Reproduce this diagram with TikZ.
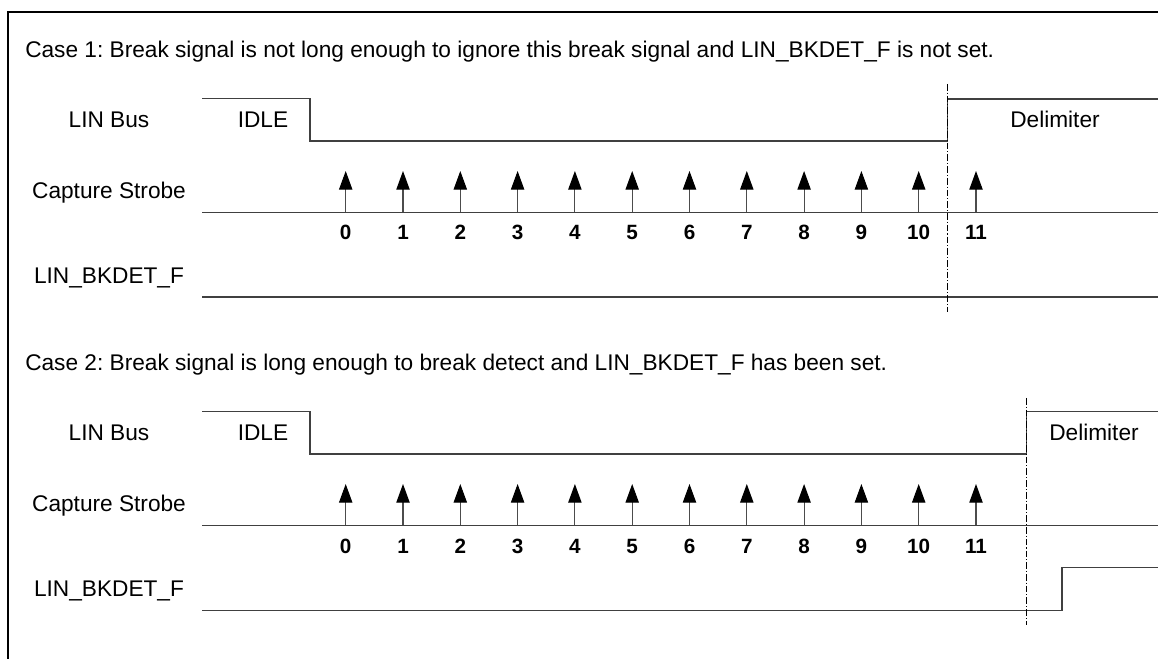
\documentclass[tikz,border=0pt]{standalone}
\usepackage{fontspec}
\setmainfont{Liberation Sans}
\usetikzlibrary{arrows.meta}
\frenchspacing

\begin{document}
\begin{tikzpicture}[
  x=0.75pt, y=-0.75pt,
  font=\fontsize{17}{20}\selectfont,
  every node/.style={inner sep=0pt},
  title/.style={anchor=base west},
  lbl/.style={anchor=base},
  tick/.style={anchor=base, font=\fontsize{15.5}{18}\selectfont\bfseries},
  frame/.style={draw=black, line width=1.5pt},
  sig/.style={draw=black!75, line width=0.8pt},
  strobe/.style={draw=black!70, line width=0.8pt, -{Triangle[length=14pt,width=10pt,color=black]}},
  marker/.style={draw=black, line width=0.6pt, dash pattern=on 5pt off 1.5pt on 0.8pt off 1.5pt}
]
\useasboundingbox (0,0) rectangle (1158,659);
\draw[frame] (1158,12.3) -- (7.5,12.3) -- (7.5,659);

% case 1
\node[title] (case1) at (25,57.3) {Case 1: Break signal is not long enough to ignore this break signal and LIN\_BKDET\_F is not set.};
\node[lbl] (bus1) at (109,127.7) {LIN Bus};
\node[lbl] (idle1) at (263,127.7) {IDLE};
\node[lbl] (delim1) at (1055,127.5) {Delimiter};
\node[lbl] (cap1) at (109,198.3) {Capture Strobe};
\node[lbl] (flag1) at (109,283.3) {LIN\_BKDET\_F};

\draw[sig] (202,98.7) -- (310,98.7) -- (310,141) -- (947.7,141) -- (947.7,99) -- (1158,99);
\draw[sig] (202,212.3) -- (1158,212.3);
\draw[sig] (202,297) -- (1158,297);
\foreach \i in {0,...,11} {
  \draw[strobe] (345.7+57.3*\i,212.3) -- (345.7+57.3*\i,171);
  \node[tick] (t1-\i) at (345.7+57.3*\i,240) {\i};
}
\draw[marker] (947.7,84) -- (947.7,312);

% case 2
\node[title] (case2) at (25,370.5) {Case 2: Break signal is long enough to break detect and LIN\_BKDET\_F has been set.};
\node[lbl] (bus2) at (109,440.5) {LIN Bus};
\node[lbl] (idle2) at (263,440.5) {IDLE};
\node[lbl] (delim2) at (1094,440.3) {Delimiter};
\node[lbl] (cap2) at (109,511.5) {Capture Strobe};
\node[lbl] (flag2) at (109,596.3) {LIN\_BKDET\_F};

\draw[sig] (202,411.9) -- (310,411.9) -- (310,454) -- (1026.7,454) -- (1026.7,411.5) -- (1158,411.5);
\draw[sig] (202,525.5) -- (1158,525.5);
\draw[sig] (202,610.7) -- (1062,610.7) -- (1062,567.7) -- (1158,567.7);
\foreach \i in {0,...,11} {
  \draw[strobe] (345.7+57.3*\i,525.5) -- (345.7+57.3*\i,484);
  \node[tick] (t2-\i) at (345.7+57.3*\i,553.3) {\i};
}
\draw[marker] (1026.7,398) -- (1026.7,625);
\end{tikzpicture}
\end{document}
